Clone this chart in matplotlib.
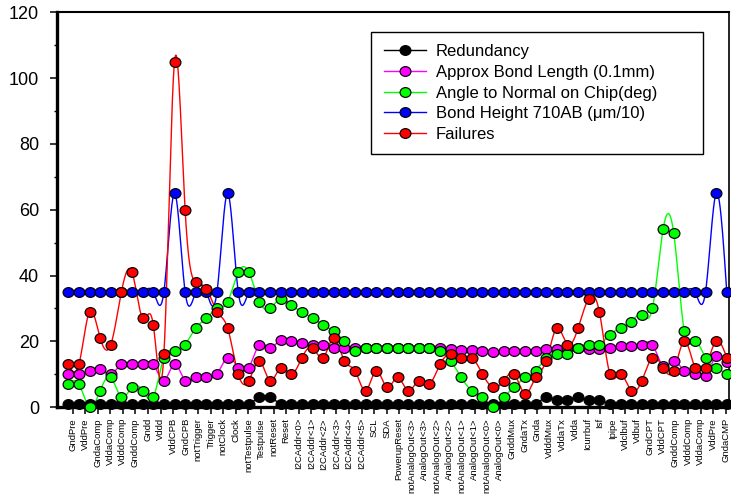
import numpy as np
import matplotlib
matplotlib.use("Agg")
import matplotlib.pyplot as plt
from matplotlib.ticker import MultipleLocator
from matplotlib.path import Path
from matplotlib.transforms import Affine2D

plt.rcParams["font.family"] = ["Liberation Sans", "DejaVu Sans"]

# Pad names shown along the x axis
pad_labels = [
    "GndPre", "VddPre", "GndaComp", "VddaComp", "VdddComp", "GnddComp", "Gndd", "Vddd",
    "VddCPB", "GndCPB", "notTrigger", "Trigger", "notClock", "Clock", "notTestpulse",
    "Testpulse", "notReset", "Reset", "I2CAddr<0>", "I2CAddr<1>", "I2CAddr<2>",
    "I2CAddr<3>", "I2CAddr<4>", "I2CAddr<5>", "SCL", "SDA", "PowerupReset",
    "notAnalogOut<3>", "AnalogOut<3>", "notAnalogOut<2>", "AnalogOut<2>",
    "notAnalogOut<1>", "AnalogOut<1>", "notAnalogOut<0>", "AnalogOut<0>", "GnddMux",
    "GndaTx", "Gnda", "VdddMux", "VddaTx", "Vdda", "Icurrbuf", "Isf", "Ipipe",
    "Vdclbuf", "Vdbuf", "GndCPT", "VddCPT", "GnddComp", "VdddComp", "VddaComp",
    "VddPre", "GndaCMP",
]

# Measured series, one value per bond
redundancy = [1, 1, 1, 1, 1, 1, 1, 1, 1, 1, 1, 1, 1, 1, 1, 1, 1, 1, 3, 3, 1,
              1, 1, 1, 1, 1, 1, 1, 1, 1, 1, 1, 1, 1, 1, 1, 1, 1, 1, 1, 1, 1,
              1, 1, 1, 3, 2, 2, 3, 2, 2, 1, 1, 1, 1, 1, 1, 1, 1, 1, 1, 1, 1]
bond_length = [10, 10, 11, 11.5, 10, 13, 13, 13, 13, 8, 13, 8, 9, 9, 10, 15, 12,
               12, 19, 18, 20.5, 20, 19.5, 19, 18.8, 18, 18, 18, 18, 18, 18, 18,
               18, 18, 18, 17.8, 17.7, 17.3, 17.3, 17, 16.6, 17, 17, 17, 17, 17.5,
               17.5, 18, 18, 17.5, 17.5, 18, 18.7, 18.7, 19, 19, 12.5, 14, 11, 10,
               9.5, 15.5, 13.6]
angle = [7, 7, 0, 5, 9, 3, 6, 5, 3, 15, 17, 19, 24, 27, 30, 32, 41, 41, 32, 30,
         33, 31, 29, 27, 25, 23, 20, 17, 18, 18, 18, 18, 18, 18, 18, 17, 14, 9, 5,
         3, 0, 3, 6, 9, 11, 15, 16, 16, 18, 19, 19, 22, 24, 26, 28, 30, 54, 53, 23,
         20, 15, 12, 10]
bond_height = [35, 35, 35, 35, 35, 35, 35, 35, 35, 35, 65, 35, 35, 35, 35, 65, 35,
               35, 35, 35, 35, 35, 35, 35, 35, 35, 35, 35, 35, 35, 35, 35, 35, 35,
               35, 35, 35, 35, 35, 35, 35, 35, 35, 35, 35, 35, 35, 35, 35, 35, 35,
               35, 35, 35, 35, 35, 35, 35, 35, 35, 35, 65, 35]
failures = [13, 13, 29, 21, 19, 35, 41, 27, 25, 16, 105, 60, 38, 36, 29, 24, 10,
            8, 14, 8, 12, 10, 15, 18, 15, 21, 14, 11, 5, 11, 6, 9, 5, 8, 7, 13, 16,
            15, 15, 10, 6, 8, 10, 4, 9, 14, 24, 19, 24, 33, 29, 10, 10, 5, 8, 15,
            12, 11, 20, 12, 12, 20, 15]

series = [
    ("Redundancy", redundancy, "#000000"),
    ("Approx Bond Length (0.1mm)", bond_length, "#ff00ff"),
    ("Angle to Normal on Chip(deg)", angle, "#00ff00"),
    ("Bond Height 710AB (\u03bcm/10)", bond_height, "#0000ff"),
    ("Failures", failures, "#ff0000"),
]


def natural_spline(x, y, per_seg=24):
    """Natural cubic spline through (x, y), sampled for a smooth curve."""
    x = np.asarray(x, float)
    y = np.asarray(y, float)
    n = len(x)
    h = np.diff(x)
    a = np.zeros((n, n))
    r = np.zeros(n)
    a[0, 0] = a[-1, -1] = 1.0
    for i in range(1, n - 1):
        a[i, i - 1] = h[i - 1]
        a[i, i] = 2 * (h[i - 1] + h[i])
        a[i, i + 1] = h[i]
        r[i] = 6 * ((y[i + 1] - y[i]) / h[i] - (y[i] - y[i - 1]) / h[i - 1])
    m = np.linalg.solve(a, r)
    xs, ys = [], []
    for i in range(n - 1):
        t = np.linspace(0, 1, per_seg, endpoint=(i == n - 2))
        p, q = 1 - t, t
        xs.append(x[i] + t * h[i])
        ys.append(p * y[i] + q * y[i + 1]
                  + ((p ** 3 - p) * m[i] + (q ** 3 - q) * m[i + 1]) * h[i] ** 2 / 6)
    return np.concatenate(xs), np.concatenate(ys)


# slightly flattened circle used as the point symbol
dot = Path.unit_circle().transformed(Affine2D().scale(1.0, 0.9))

fig = plt.figure(figsize=(7.31, 4.95), dpi=100)
ax = fig.add_axes([57 / 731, 88 / 495, 672 / 731, 394.5 / 495])

idx = np.arange(len(failures))
for name, vals, col in series:
    sx, sy = natural_spline(idx, vals)
    ax.plot(sx, sy, color=col, lw=1.0, zorder=2, clip_on=False)
    ax.plot(idx, vals, ls="none", marker=dot, ms=7.8, mfc=col, mec="black",
            mew=0.85, zorder=3, clip_on=False)
    # legend proxy
    ax.plot([], [], color=col, lw=1.0, marker=dot, ms=7.8, mfc=col, mec="black",
            mew=0.85, label=name)

ax.set_xlim(-1.064, 62.21)
ax.set_ylim(0, 120)

tick_pos = np.linspace(0.41, 61.9, len(pad_labels))
ax.set_xticks(tick_pos)
ax.set_xticklabels(pad_labels, rotation=90, fontsize=6.8)
ax.tick_params(axis="x", direction="out", length=5, width=1.1, pad=3, color="black")

ax.yaxis.set_major_locator(MultipleLocator(20))
ax.yaxis.set_minor_locator(MultipleLocator(10))
ax.tick_params(axis="y", which="major", direction="out", length=5, width=1.1,
               labelsize=13, pad=8)
ax.tick_params(axis="y", which="minor", direction="out", length=2.5, width=1.0)

for side, w in (("left", 2.4), ("bottom", 2.4), ("top", 1.5), ("right", 1.2)):
    ax.spines[side].set_linewidth(w)
    ax.spines[side].set_color("black")

leg = ax.legend(loc="upper left", bbox_to_anchor=(0.468, 0.70, 0.493, 0.251),
                mode="expand", fontsize=12, frameon=True, fancybox=False,
                edgecolor="black", framealpha=1, handlelength=2.5,
                handletextpad=0.6, labelspacing=0.34, borderpad=0.75,
                borderaxespad=0)
leg.get_frame().set_linewidth(1.0)

fig.savefig("out.png", dpi=100)
